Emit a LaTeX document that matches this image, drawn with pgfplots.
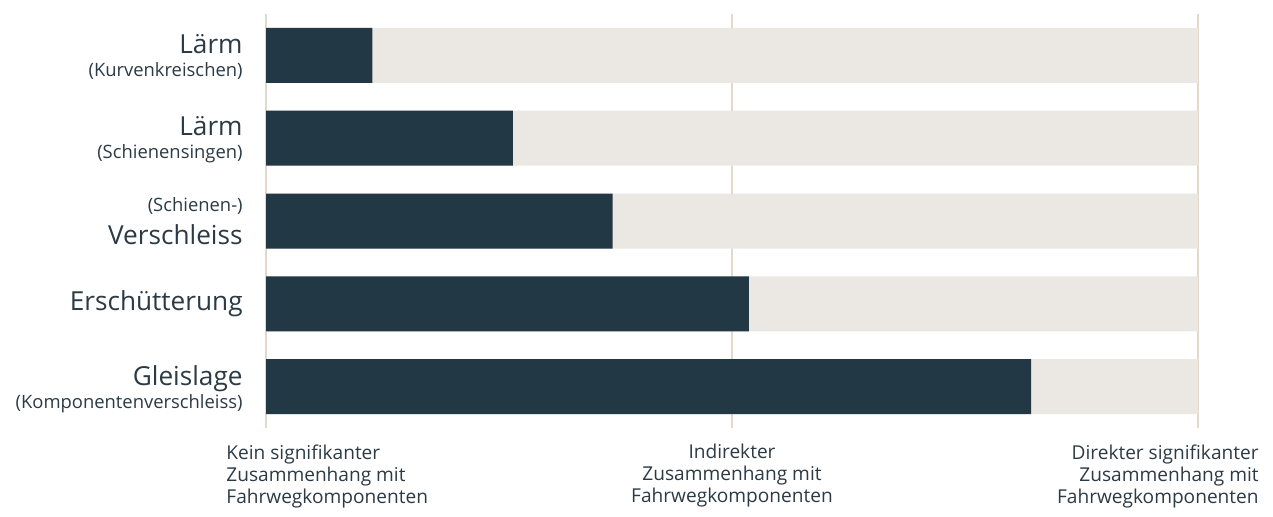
\documentclass[border=0pt]{standalone}
\usepackage{pgfplots}
\pgfplotsset{compat=1.18}
\usepackage{fontspec}
\setmainfont{Open Sans}
\definecolor{barDark}{HTML}{233845}
\definecolor{barBack}{HTML}{EBE7E2}
\definecolor{gridC}{HTML}{E2D9CC}
\definecolor{txt}{HTML}{2B3A44}
\newcommand{\lbig}[1]{{\fontsize{13.1}{14}\selectfont #1}}
\newcommand{\lsml}[1]{{\fontsize{9.2}{10}\selectfont #1}}
\newcommand{\lbot}{\fontsize{9.55}{11}\selectfont}
\begin{document}
\begin{tikzpicture}[x=0.5pt,y=0.5pt]
\begin{axis}[
  at={(133pt,44pt)}, anchor=south west,
  scale only axis, width=466pt, height=207pt,
  xmin=0, xmax=1, ymin=-0.5, ymax=4.5, y dir=reverse,
  xbar, bar shift=0pt, bar width=27.5pt,
  axis line style={draw=none},
  xtick={0,0.5,1}, xticklabels={}, ytick=\empty,
  major tick length=0pt,
  xmajorgrids, grid style={gridC, line width=0.8pt},
  clip=false,
]
\addplot[fill=barBack, draw=none] coordinates {(1,0)(1,1)(1,2)(1,3)(1,4)};
\addplot[fill=barDark, draw=none] coordinates {(0.114,0)(0.265,1)(0.372,2)(0.518,3)(0.821,4)};
\end{axis}
\begin{scope}[every node/.style={text=txt, inner sep=0pt, align=right, anchor=east}]
\node at (243,459) {\lbig{Lärm}\\[-0.5pt]\lsml{(Kurvenkreischen)}};
\node at (243,376) {\lbig{Lärm}\\[-0.5pt]\lsml{(Schienensingen)}};
\node at (243,295) {\lsml{(Schienen-)}\\[4.5pt]\lbig{Verschleiss}};
\node at (243,212) {\lbig{Erschütterung}};
\node at (243,127) {\lbig{Gleislage}\\[-0.5pt]\lsml{(Komponentenverschleiss)}};
\end{scope}
\begin{scope}[every node/.style={text=txt, inner sep=0pt}]
\node[align=left, anchor=north west, font=\lbot] at (226,72) {Kein signifikanter\\Zusammenhang mit\\Fahrwegkomponenten};
\node[align=center, anchor=north, font=\lbot] at (732,72) {Indirekter\\Zusammenhang mit\\Fahrwegkomponenten};
\node[align=right, anchor=north east, font=\lbot] at (1259,72) {Direkter signifikanter\\Zusammenhang mit\\Fahrwegkomponenten};
\end{scope}
\pgfresetboundingbox
\useasboundingbox (0,0) rectangle (1273,516);
\end{tikzpicture}
\end{document}
